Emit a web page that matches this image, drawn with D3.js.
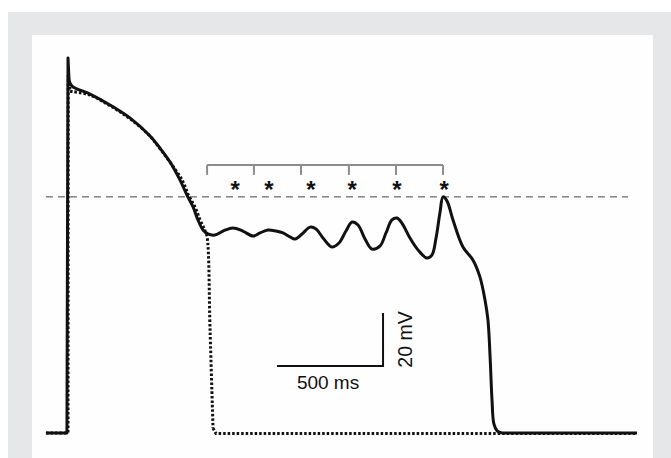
<!DOCTYPE html>
<html><head><meta charset="utf-8">
<script src="https://cdn.jsdelivr.net/npm/d3@7"></script>
<style>html,body{margin:0;padding:0;background:#fff;}svg{display:block;}</style>
</head><body>
<svg id="c" width="671" height="458"></svg>
<script>
// Time (ms) and membrane potential (mV) of the solid trace (with oscillations)
const solidTime = [-104,-5,0,5,19,104,198,292,387,434,481,528,561,590,613,637,660,693,731,778,825,873,906,943,981,1014,1047,1071,1104,1142,1170,1203,1245,1278,1311,1340,1368,1401,1434,1472,1500,1528,1552,1575,1613,1651,1693,1717,1736,1755,1769,1788,1816,1863,1910,1943,1967,1981,1991,2000,2009,2024,2047,2684];
const solidVolt = [-85,-85,56.5,48.2,45.9,42.9,38.8,33.9,27.1,22.5,17.3,10.5,4.8,0.3,-4.6,-8.4,-9.9,-10.3,-8.8,-7.6,-8.8,-10.7,-9.5,-8.4,-8.8,-9.5,-11.0,-11.8,-9.9,-7.3,-8.0,-11.4,-14.8,-13.3,-8.8,-5.4,-6.5,-11.8,-15.6,-14.4,-9.5,-4.6,-3.9,-5.8,-11.4,-15.9,-19.0,-17.8,-11.4,-1.6,4.1,2.5,-4.6,-14.8,-19.7,-26.1,-34.8,-42.4,-56.3,-72.5,-81.6,-84.2,-85,-85];
// Dotted (control) trace
const dotTime = [-104,0,1,10,104,198,292,387,434,481,538,570,599,623,646,656,670,684,698,2684];
const dotVolt = [-85,-85,50,44,42.5,38.5,33.6,27,22.3,17.2,10.5,4.5,0.3,-4.6,-8.6,-11.0,-46.1,-83.1,-85.2,-85.2];
// Threshold reference line
const refVolt = 4.1;
const refTime = [-104, 2642];
// Bracket tick times (ms) and asterisk times
const bracketTicks = [656, 877, 1099, 1325, 1547, 1769];
const bracketVolt = [16.1, 12.4];
const starTimes = [788, 948, 1146, 1340, 1552, 1774];
const starVolt = 9;
// Scale bar
const scaleT0 = 986, scaleDur = 500, scaleV0 = -59.7, scaleAmp = 20;
const scaleLabels = ["500 ms", "20 mV"];

const svg = d3.select("#c");
svg.append("rect").attr("x",8).attr("y",12).attr("width",663).attr("height",446).attr("fill","#e6e7e8");
svg.append("rect").attr("x",32).attr("y",35).attr("width",621).attr("height",423).attr("fill","#fefefe");

const x = d3.scaleLinear().domain([0, 2700]).range([68, 68 + 2700*0.212]);
const y = d3.scaleLinear().domain([-85, 60]).range([433, 433 - 145*2.65]);

// reference dashed line
svg.append("line")
  .attr("x1", x(refTime[0])).attr("x2", x(refTime[1]))
  .attr("y1", y(refVolt)).attr("y2", y(refVolt))
  .attr("stroke","#444").attr("stroke-width",1).attr("stroke-dasharray","7,5");

const smooth = d3.line().x(d=>x(d[0])).y(d=>y(d[1])).curve(d3.curveCatmullRom.alpha(0.5));
const straight = d3.line().x(d=>x(d[0])).y(d=>y(d[1]));
// build path: straight pieces at sharp corners, smooth elsewhere
function tracePath(ts, vs, linA, linB) {
  const pts = ts.map((t,i)=>[t,vs[i]]);
  const a = straight(pts.slice(0, linA+1));
  const b = smooth(pts.slice(linA, linB+1));
  const c = straight(pts.slice(linB));
  return a + b + c;
}

svg.append("path")
  .attr("d", tracePath(dotTime, dotVolt, 3, 17)).attr("fill","none").attr("stroke","#111")
  .attr("stroke-width",3).attr("stroke-dasharray","2.5,2");

svg.append("path")
  .attr("d", tracePath(solidTime, solidVolt, 3, 62)).attr("fill","none").attr("stroke","#111")
  .attr("stroke-width",3).attr("stroke-linejoin","round");

// bracket
const bg = svg.append("g").attr("stroke","#8c8c8c").attr("stroke-width",2).attr("fill","none");
bg.append("line").attr("x1",x(bracketTicks[0])).attr("x2",x(bracketTicks[bracketTicks.length-1]))
  .attr("y1",y(bracketVolt[0])).attr("y2",y(bracketVolt[0]));
bg.selectAll("line.t").data(bracketTicks).join("line").attr("class","t")
  .attr("x1",d=>x(d)).attr("x2",d=>x(d)).attr("y1",y(bracketVolt[0])).attr("y2",y(bracketVolt[1]));

svg.selectAll("text.star").data(starTimes).join("text").attr("class","star")
  .attr("x",d=>x(d)).attr("y",y(starVolt)+14)
  .attr("text-anchor","middle").attr("font-family","Liberation Sans, Arial, sans-serif")
  .attr("font-size",24).attr("font-weight","bold").attr("fill","#111").text("*");

// scale bar
svg.append("path")
  .attr("d", `M${x(scaleT0)},${y(scaleV0)}H${x(scaleT0+scaleDur)}V${y(scaleV0+scaleAmp)}`)
  .attr("fill","none").attr("stroke","#111").attr("stroke-width",2);
svg.append("text").attr("x",(x(scaleT0)+x(scaleT0+scaleDur))/2 - 2).attr("y",y(scaleV0)+23)
  .attr("text-anchor","middle").attr("font-family","Liberation Sans, Arial, sans-serif")
  .attr("font-size",19).attr("fill","#111").text(scaleLabels[0]);
svg.append("text")
  .attr("transform",`translate(${x(scaleT0+scaleDur)+29},${(y(scaleV0)+y(scaleV0+scaleAmp))/2}) rotate(-90)`)
  .attr("text-anchor","middle").attr("font-family","Liberation Sans, Arial, sans-serif")
  .attr("font-size",19.5).attr("fill","#111").text(scaleLabels[1]);
</script>
</body></html>
